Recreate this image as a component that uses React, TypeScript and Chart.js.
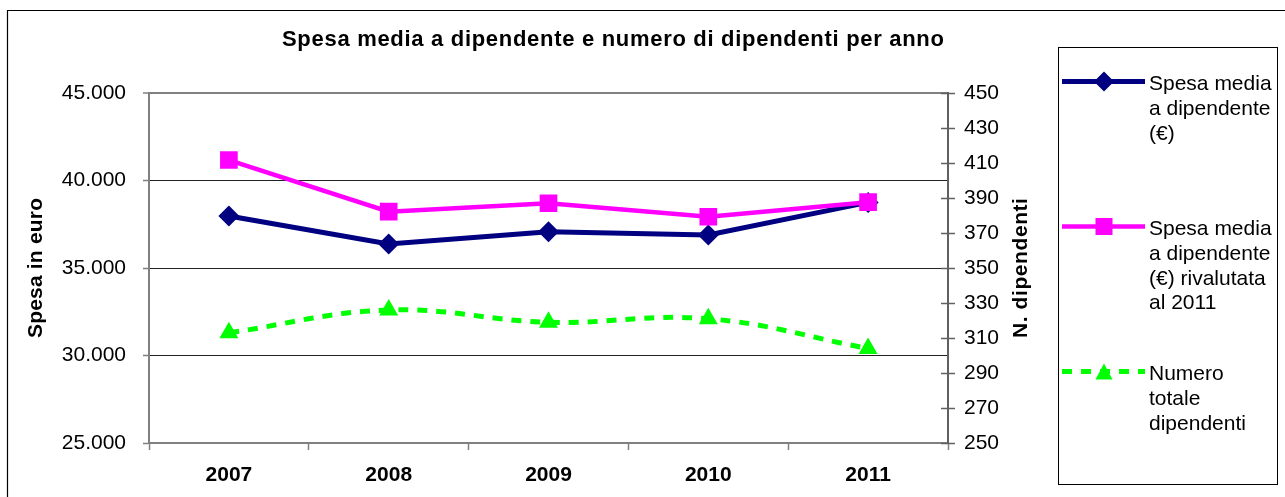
import React, { useEffect, useRef } from 'react';
import { Chart, registerables } from 'chart.js';

Chart.register(...registerables);

// ---- Data ----
const years = ['2007', '2008', '2009', '2010', '2011'];
const spesaMedia = [37970, 36370, 37070, 36890, 38750];
const spesaRivalutata = [41170, 38220, 38700, 37930, 38760];
const numeroDipendenti = [313, 326, 319, 321, 304];

const leftMin = 25000;
const leftMax = 45000;
const leftStep = 5000;
const rightMin = 250;
const rightMax = 450;
const rightStep = 20;

const chartTitle = 'Spesa media a dipendente e numero di dipendenti per anno';
const leftAxisTitle = 'Spesa in euro';
const rightAxisTitle = 'N. dipendenti';
const legendLines1 = ['Spesa media', 'a dipendente', '(€)'];
const legendLines2 = ['Spesa media', 'a dipendente', '(€) rivalutata', 'al 2011'];
const legendLines3 = ['Numero', 'totale', 'dipendenti'];

const NAVY = '#000080';
const MAGENTA = '#FF00FF';
const GREEN = '#00FF00';
const FONT = '"Liberation Sans", Arial, Helvetica, sans-serif';

const fmtThousands = (v: number) =>
  String(Math.round(v)).replace(/\B(?=(\d{3})+(?!\d))/g, '.');

function drawMarker(ctx: CanvasRenderingContext2D, kind: string, x: number, y: number, r: number, color: string) {
  ctx.save();
  ctx.setLineDash([]);
  ctx.fillStyle = color;
  ctx.beginPath();
  if (kind === 'diamond') {
    ctx.moveTo(x, y - r);
    ctx.lineTo(x + r, y);
    ctx.lineTo(x, y + r);
    ctx.lineTo(x - r, y);
  } else if (kind === 'square') {
    ctx.rect(x - r, y - r, 2 * r, 2 * r);
  } else {
    const h = r * 0.95;
    ctx.moveTo(x, y - h);
    ctx.lineTo(x + r, y + h);
    ctx.lineTo(x - r, y + h);
  }
  ctx.closePath();
  ctx.fill();
  ctx.restore();
}

function drawSpacedText(ctx: CanvasRenderingContext2D, text: string, cx: number, cy: number, target: number) {
  const w = ctx.measureText(text).width;
  const n = text.length;
  const spacing = n > 1 ? (target - w) / (n - 1) : 0;
  (ctx as any).letterSpacing = spacing.toFixed(2) + 'px';
  ctx.textAlign = 'left';
  ctx.textBaseline = 'middle';
  ctx.fillText(text, cx - target / 2, cy);
  (ctx as any).letterSpacing = '0px';
}

export default function App() {
  const ref = useRef<HTMLCanvasElement>(null);

  useEffect(() => {
    document.body.style.margin = '0';
    const canvas = ref.current!;

    const overlay = {
      id: 'overlay',
      afterDraw(chart: any) {
        const ctx: CanvasRenderingContext2D = chart.ctx;
        const area = chart.chartArea;
        ctx.save();

        // outer chart border (left + top visible)
        ctx.strokeStyle = '#000';
        ctx.lineWidth = 1.2;
        ctx.beginPath();
        ctx.moveTo(7.5, 500);
        ctx.lineTo(7.5, 10.5);
        ctx.lineTo(1290, 10.5);
        ctx.stroke();

        // right axis ticks crossing into plot
        const y1 = chart.scales.y1;
        ctx.strokeStyle = '#606060';
        ctx.lineWidth = 1.5;
        y1.ticks.forEach((t: any) => {
          const py = Math.round(y1.getPixelForValue(t.value)) + 0.5;
          ctx.beginPath();
          ctx.moveTo(area.right - 7, py);
          ctx.lineTo(area.right, py);
          ctx.stroke();
        });

        // title
        ctx.fillStyle = '#000';
        ctx.font = `bold 22px ${FONT}`;
        drawSpacedText(ctx, chartTitle, 613, 40, 662);

        // left axis title
        ctx.save();
        ctx.translate(36, (area.top + area.bottom) / 2);
        ctx.rotate(-Math.PI / 2);
        ctx.font = `bold 21px ${FONT}`;
        drawSpacedText(ctx, leftAxisTitle, 0, 0, 140);
        ctx.restore();

        // right axis title
        ctx.save();
        ctx.translate(1021, (area.top + area.bottom) / 2);
        ctx.rotate(-Math.PI / 2);
        ctx.font = `bold 21px ${FONT}`;
        drawSpacedText(ctx, rightAxisTitle, 0, 0, 140);
        ctx.restore();

        // legend
        ctx.strokeStyle = '#000';
        ctx.lineWidth = 1;
        ctx.strokeRect(1058.5, 47.5, 219, 437);

        const entries = [
          { lines: legendLines1, color: NAVY, width: 5, dash: [] as number[], marker: 'diamond', r: 10, base: 90 },
          { lines: legendLines2, color: MAGENTA, width: 4.5, dash: [] as number[], marker: 'square', r: 8.5, base: 235 },
          { lines: legendLines3, color: GREEN, width: 5, dash: [10, 9], marker: 'triangle', r: 8.5, base: 380 },
        ];
        const lineGap = 24.8;
        entries.forEach((e) => {
          const sy = e.base - 8.5;
          ctx.save();
          ctx.strokeStyle = e.color;
          ctx.lineWidth = e.width;
          ctx.setLineDash(e.dash);
          ctx.beginPath();
          ctx.moveTo(1062, sy);
          ctx.lineTo(1145, sy);
          ctx.stroke();
          ctx.restore();
          drawMarker(ctx, e.marker, 1104, sy, e.r, e.color);
          ctx.fillStyle = '#000';
          ctx.font = `21px ${FONT}`;
          ctx.textAlign = 'left';
          ctx.textBaseline = 'alphabetic';
          e.lines.forEach((ln, i) => {
            ctx.fillText(ln, 1149, e.base + i * lineGap);
          });
        });

        ctx.restore();
      },
    };

    const chart = new Chart(canvas, {
      type: 'line',
      data: {
        labels: years,
        datasets: [
          {
            label: 'Spesa media a dipendente (€) rivalutata al 2011',
            data: spesaRivalutata,
            yAxisID: 'y',
            borderColor: MAGENTA,
            backgroundColor: MAGENTA,
            borderWidth: 4.5,
            pointStyle: 'rect',
            pointRadius: 12.5,
            pointBorderWidth: 0,
            tension: 0,
            order: 0,
          },
          {
            label: 'Spesa media a dipendente (€)',
            data: spesaMedia,
            yAxisID: 'y',
            borderColor: NAVY,
            backgroundColor: NAVY,
            borderWidth: 5,
            pointStyle: 'rectRot',
            pointRadius: 10.5,
            pointBorderWidth: 0,
            tension: 0,
            order: 1,
          },
          {
            label: 'Numero totale dipendenti',
            data: numeroDipendenti,
            yAxisID: 'y1',
            borderColor: GREEN,
            backgroundColor: GREEN,
            borderWidth: 5,
            borderDash: [10, 9],
            pointStyle: 'triangle',
            pointRadius: 11,
            pointBorderWidth: 0,
            tension: 0.4,
            order: 2,
          },
        ],
      },
      options: {
        responsive: false,
        animation: false,
        layout: { padding: { top: 93, left: 0, right: 0, bottom: 0 } },
        plugins: {
          legend: { display: false },
          title: { display: false },
          tooltip: { enabled: false },
        },
        scales: {
          x: {
            offset: true,
            grid: {
              offset: true,
              drawOnChartArea: false,
              tickLength: 7,
              tickColor: '#808080',
              tickWidth: 1.5,
            },
            border: { color: '#808080', width: 2 },
            ticks: {
              font: { family: FONT, size: 21, weight: 'bold' },
              color: '#000',
              padding: 13,
              maxRotation: 0,
            },
            afterFit(s: any) {
              s.height = 54;
            },
          },
          y: {
            position: 'left',
            min: leftMin,
            max: leftMax,
            ticks: {
              stepSize: leftStep,
              callback: (v: any) => fmtThousands(Number(v)),
              font: { family: FONT, size: 21 },
              color: '#000',
              padding: 17,
            },
            grid: {
              color: (c: any) => (c.tick && c.tick.value === leftMax ? '#808080' : '#222'),
              lineWidth: (c: any) => (c.tick && c.tick.value === leftMax ? 2 : 1),
              tickColor: '#808080',
              tickLength: 6,
              tickWidth: 1.5,
            },
            border: { color: '#808080', width: 2 },
            afterFit(s: any) {
              s.width = 149;
            },
          },
          y1: {
            position: 'right',
            min: rightMin,
            max: rightMax,
            ticks: {
              stepSize: rightStep,
              font: { family: FONT, size: 21 },
              color: '#000',
              padding: 9,
            },
            grid: {
              drawOnChartArea: false,
              tickLength: 7,
              tickColor: '#606060',
              tickWidth: 1.5,
            },
            border: { color: '#606060', width: 2 },
            afterFit(s: any) {
              s.width = 1285 - 948;
            },
          },
        },
      },
      plugins: [overlay],
    } as any);

    return () => chart.destroy();
  }, []);

  return <canvas ref={ref} width={1285} height={497} style={{ display: 'block' }} />;
}
